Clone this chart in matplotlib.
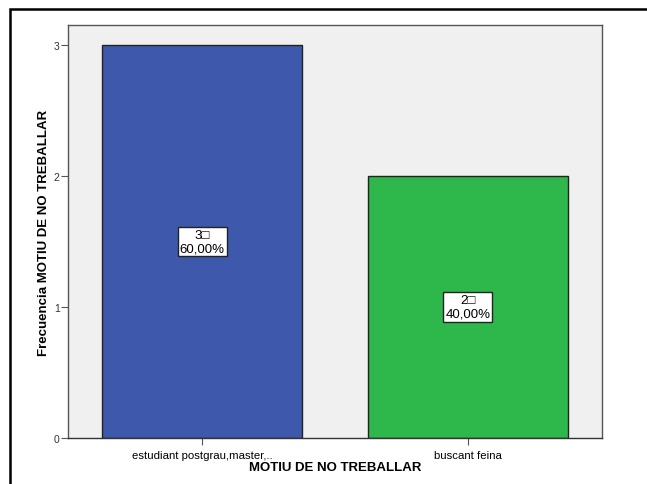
import matplotlib
matplotlib.use("Agg")
import matplotlib.pyplot as plt
from matplotlib.patches import Rectangle

plt.rcParams['font.family'] = ['Liberation Sans', 'DejaVu Sans']

categories = ["estudiant postgrau,master,..", "buscant feina"]
counts = [3, 2]
percents = ["60,00%", "40,00%"]
colors = ["#3e58ac", "#2eb84c"]
yticks = [0, 1, 2, 3]

fig = plt.figure(figsize=(6.47, 4.85), dpi=100)
# marco exterior (solo arriba e izquierda visibles)
fig.patches.append(Rectangle((10 / 647, -0.1), 1.2, 1 - 10 / 485 + 0.1,
                             transform=fig.transFigure, fill=False,
                             edgecolor="black", linewidth=1.8))

ax = fig.add_axes([68 / 647, 46 / 485, 534 / 647, 413 / 485])
ax.set_facecolor("#f0f0f0")
x = range(len(categories))
ax.bar(x, counts, width=0.755, color=colors, edgecolor="#222222", linewidth=1, zorder=2)

for i, c in enumerate(counts):
    ax.text(i, c / 2, f"{c}\u25a1\n{percents[i]}", ha="center", va="center",
            fontsize=9.5, linespacing=1.2, zorder=3,
            bbox=dict(boxstyle="square,pad=0.15", facecolor="white",
                      edgecolor="#222222", linewidth=1))

ax.set_xlim(-0.504, 1.504)
ax.set_ylim(0, 3.153)
ax.set_xticks(list(x))
ax.set_xticklabels(categories, fontsize=8.2)
ax.set_yticks(yticks)
ax.set_yticklabels([str(t) for t in yticks], fontsize=7.5, color="#333333")
ax.tick_params(axis="both", direction="out", length=5, width=0.8, color="#555555", pad=1)
ax.tick_params(axis="x", pad=4)
for s in ax.spines.values():
    s.set_color("#555555")
    s.set_linewidth(1)
ax.spines["bottom"].set_color("#333333")
ax.set_xlabel("MOTIU DE NO TREBALLAR", fontsize=9.5, fontweight="bold", labelpad=0.5)
ax.set_ylabel("Frecuencia MOTIU DE NO TREBALLAR", fontsize=9.5, fontweight="bold", labelpad=3)

fig.savefig("out.png", dpi=100)
